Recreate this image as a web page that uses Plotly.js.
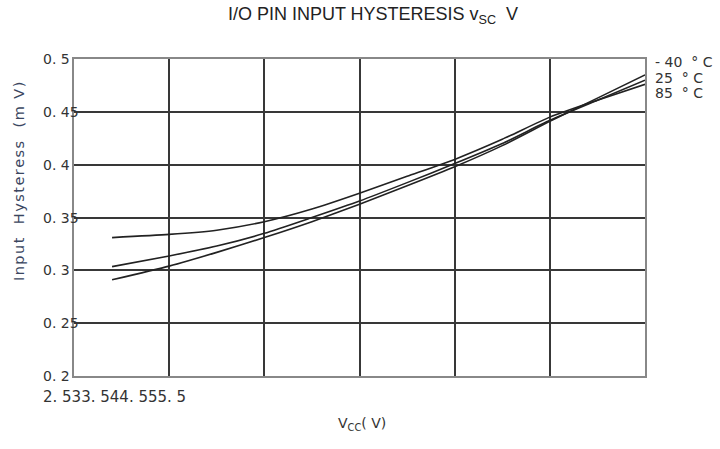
<!DOCTYPE html>
<html><head><meta charset="utf-8">
<script src="https://cdn.plot.ly/plotly-3.0.1.min.js"></script>
<style>html,body{margin:0;padding:0;background:#fff}#c{width:720px;height:449px}</style>
</head><body><div id="c"></div>
<script>
var vcc = [2.7, 3.0, 3.25, 3.5, 3.75, 4.0, 4.25, 4.5, 4.75, 5.0, 5.25, 5.5];
var hystA = [0.331, 0.334, 0.338, 0.346, 0.358, 0.373, 0.389, 0.405, 0.424, 0.445, 0.461, 0.476];
var hystB = [0.3035, 0.3136, 0.323, 0.335, 0.350, 0.3656, 0.383, 0.401, 0.420, 0.442, 0.461, 0.480];
var hystC = [0.291, 0.304, 0.317, 0.331, 0.346, 0.3625, 0.380, 0.398, 0.418, 0.441, 0.463, 0.485];
var seriesLabels = ['- 40  ° C', '25  ° C', '85  ° C'];
var xTickVals = [2.5, 3, 3.5, 4, 4.5, 5, 5.5];
var xTickLabels = ['2. 5', '3', '3. 5', '4', '4. 5', '5', '5. 5'];
var yTickVals = [0.2, 0.25, 0.3, 0.35, 0.4, 0.45, 0.5];
var yTickLabels = ['0. 2', '0. 25', '0. 3', '0. 35', '0. 4', '0. 45', '0. 5'];
var yTitle = 'Input  Hysteress  (m V)';

var font = 'DejaVu Sans, sans-serif';
var W = 571, H = 317;
function tr(y){return {x: vcc, y: y, mode: 'lines', line: {color: '#222', width: 1.6, shape: 'spline', smoothing: 0.6}, showlegend: false, hoverinfo: 'skip'};}
var data = [tr(hystA), tr(hystB), tr(hystC)];

var ann = [];
yTickVals.forEach(function(v, i){
  ann.push({xref: 'paper', yref: 'y', x: -33/W, y: v, xanchor: 'left', yanchor: 'middle', text: yTickLabels[i], showarrow: false, font: {family: font, size: 14, color: '#333'}});
});
ann.push({xref: 'paper', yref: 'paper', x: -33/W, y: -21/H, xanchor: 'left', yanchor: 'middle', text: xTickLabels.join(''), showarrow: false, font: {family: font, size: 15, color: '#333'}});
var endY = [0.5 - 3/1056.7, 0.5 - 19/1056.7, 0.5 - 34/1056.7];
seriesLabels.forEach(function(s, i){
  ann.push({xref: 'paper', yref: 'y', x: 1 + 8/W, y: endY[i], xanchor: 'left', yanchor: 'middle', text: s, showarrow: false, font: {family: font, size: 14, color: '#333'}});
});
ann.push({xref: 'paper', yref: 'paper', x: -55/W, y: (376-182)/H, xanchor: 'center', yanchor: 'middle', textangle: -90,
  text: yTitle.split('').join('\u200A'), showarrow: false, font: {family: font, size: 14.5, color: '#3a4660'}});
ann.push({xref: 'paper', yref: 'paper', x: (362-74)/W, y: -(424-376)/H, xanchor: 'center', yanchor: 'middle',
  text: 'V<sub>CC</sub>( V)', showarrow: false, font: {family: font, size: 14, color: '#333'}});

var layout = {
  width: 720, height: 449,
  margin: {l: 74, r: 75, t: 59, b: 73},
  paper_bgcolor: '#fff', plot_bgcolor: '#fff',
  title: {text: 'I/O PIN INPUT HYSTERESIS v<sub>SC</sub>  V', x: 373/720, xanchor: 'center', y: 1 - 14/449, yanchor: 'middle',
          font: {family: 'Liberation Sans Narrow, Liberation Sans, sans-serif', size: 18, color: '#222'}},
  xaxis: {range: [2.5, 5.5], tickvals: xTickVals, showticklabels: false, ticks: '',
          showgrid: true, gridcolor: '#383838', gridwidth: 2, zeroline: false,
          showline: true, mirror: true, linecolor: '#888', linewidth: 2},
  yaxis: {range: [0.2, 0.5], tickvals: yTickVals, showticklabels: false, ticks: '',
          showgrid: true, gridcolor: '#383838', gridwidth: 2, zeroline: false,
          showline: true, mirror: true, linecolor: '#888', linewidth: 2},
  annotations: ann
};
Plotly.newPlot('c', data, layout, {staticPlot: true});
</script></body></html>
